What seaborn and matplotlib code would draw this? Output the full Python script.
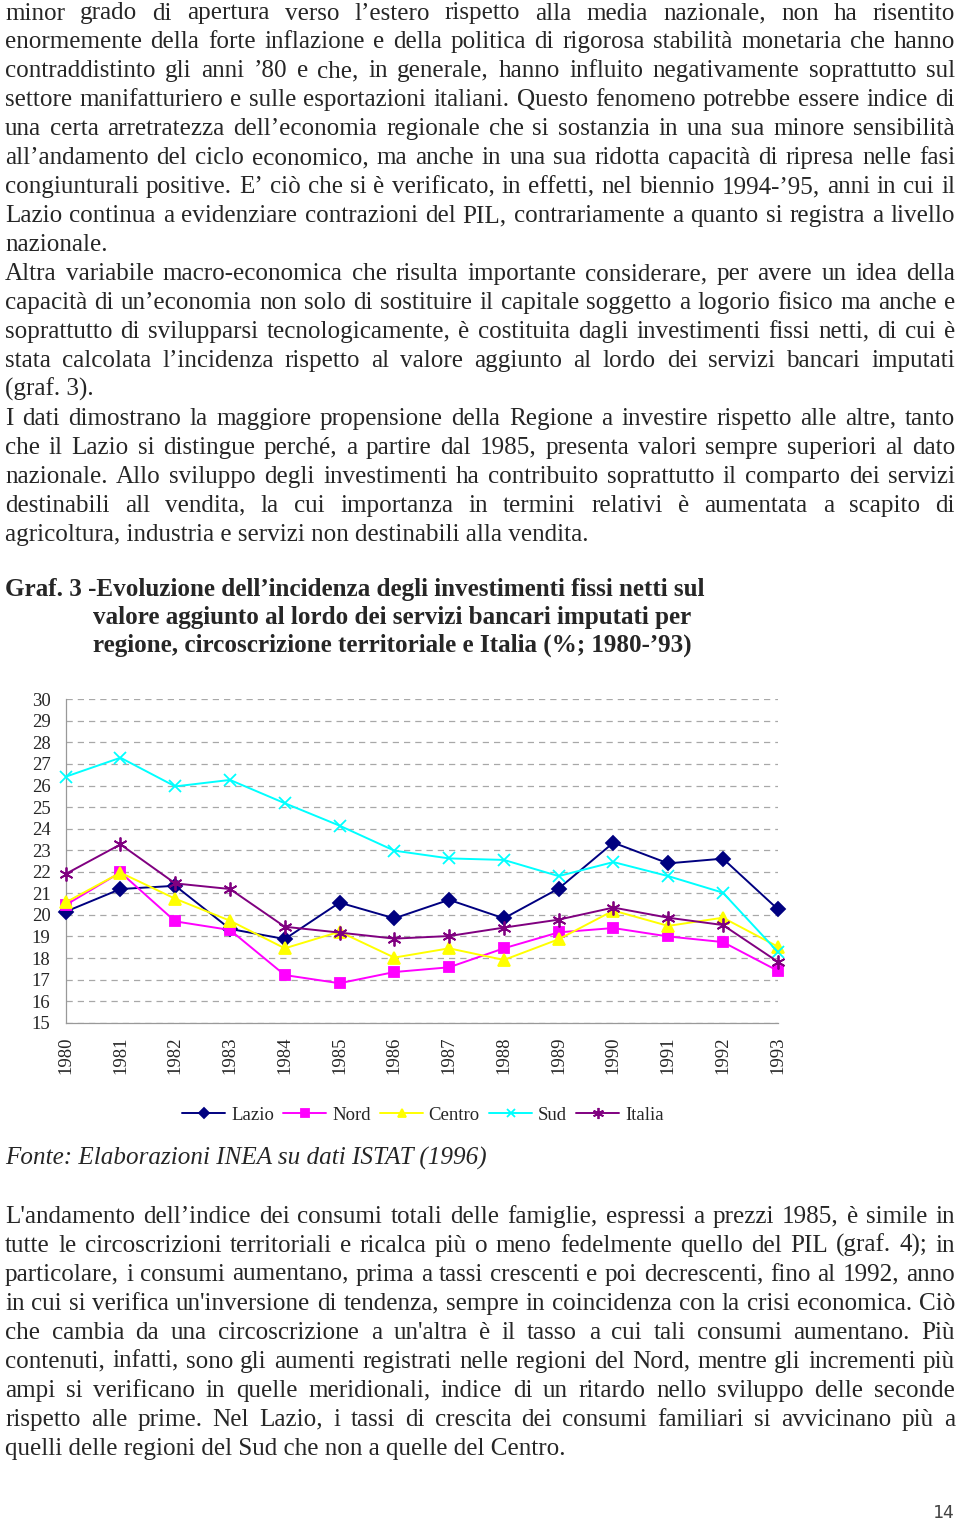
import matplotlib
matplotlib.use('Agg')
import matplotlib.pyplot as plt
import seaborn as sns

# chart data
years = list(range(1980, 1994))
lazio = [20.15, 21.2, 21.35, 19.35, 18.88, 20.57, 19.84, 20.7, 19.84, 21.22, 23.35, 22.39, 22.61, 20.27]
nord = [20.46, 21.97, 19.7, 19.3, 17.21, 16.83, 17.35, 17.57, 18.45, 19.19, 19.39, 19.0, 18.74, 17.41]
centro = [20.58, 21.96, 20.75, 19.73, 18.45, 19.22, 18.02, 18.45, 17.91, 18.87, 20.2, 19.49, 19.87, 18.53]
sud = [26.41, 27.29, 25.96, 26.26, 25.18, 24.14, 22.98, 22.62, 22.55, 21.8, 22.45, 21.8, 21.03, 18.29]
italia = [21.9, 23.27, 21.46, 21.2, 19.45, 19.18, 18.9, 19.02, 19.41, 19.78, 20.34, 19.87, 19.53, 17.83]
y_ticks = list(range(15, 31))

# page text: (line, justified?)
top_lines = [
    ("minor grado di apertura verso l’estero rispetto alla media nazionale, non ha risentito", True),
    ("enormemente della forte inflazione e della politica di rigorosa stabilità monetaria che hanno", True),
    ("contraddistinto gli anni ’80 e che, in generale, hanno influito negativamente soprattutto sul", True),
    ("settore manifatturiero e sulle esportazioni italiani. Questo fenomeno potrebbe essere indice di", True),
    ("una certa arretratezza dell’economia regionale che si sostanzia in una sua minore sensibilità", True),
    ("all’andamento del ciclo economico, ma anche in una sua ridotta capacità di ripresa nelle fasi", True),
    ("congiunturali positive. E’ ciò che si è verificato, in effetti, nel biennio 1994-’95, anni in cui il", True),
    ("Lazio continua a evidenziare contrazioni del PIL, contrariamente a quanto si registra a livello", True),
    ("nazionale.", False),
    ("Altra variabile macro-economica che risulta importante considerare, per avere un idea della", True),
    ("capacità di un’economia non solo di sostituire il capitale soggetto a logorio fisico ma anche e", True),
    ("soprattutto di svilupparsi tecnologicamente, è costituita dagli investimenti fissi netti, di cui è", True),
    ("stata calcolata l’incidenza rispetto al valore aggiunto al lordo dei servizi bancari imputati", True),
    ("(graf. 3).", False),
    ("I dati dimostrano la maggiore propensione della Regione a investire rispetto alle altre, tanto", True),
    ("che il Lazio si distingue perché, a partire dal 1985, presenta valori sempre superiori al dato", True),
    ("nazionale. Allo sviluppo degli investimenti ha contribuito soprattutto il comparto dei servizi", True),
    ("destinabili all vendita, la cui importanza in termini relativi è aumentata a scapito di", True),
    ("agricoltura, industria e servizi non destinabili alla vendita.", False),
]
bottom_lines = [
    ("L'andamento dell’indice dei consumi totali delle famiglie, espressi a prezzi 1985, è simile in", True),
    ("tutte le circoscrizioni territoriali e ricalca più o meno fedelmente quello del PIL (graf. 4); in", True),
    ("particolare, i consumi aumentano, prima a tassi crescenti e poi decrescenti, fino al 1992, anno", True),
    ("in cui si verifica un'inversione di tendenza, sempre in coincidenza con la crisi economica. Ciò", True),
    ("che cambia da una circoscrizione a un'altra è il tasso a cui tali consumi aumentano. Più", True),
    ("contenuti, infatti, sono gli aumenti registrati nelle regioni del Nord, mentre gli incrementi più", True),
    ("ampi si verificano in quelle meridionali, indice di un ritardo nello sviluppo delle seconde", True),
    ("rispetto alle prime. Nel Lazio, i tassi di crescita dei consumi familiari si avvicinano più a", True),
    ("quelli delle regioni del Sud che non a quelle del Centro.", False),
]
title_lines = [
    "Graf. 3 -Evoluzione dell’incidenza degli investimenti fissi netti sul",
    "valore aggiunto al lordo dei servizi bancari imputati per",
    "regione, circoscrizione territoriale e Italia (%; 1980-’93)",
]
source = "Fonte: Elaborazioni INEA su dati ISTAT (1996)"

sns.set_style('white')
plt.rcParams['font.family'] = ['Liberation Serif', 'DejaVu Serif']

W, H = 960, 1521
fig = plt.figure(figsize=(W / 100, H / 100), dpi=100)
renderer = fig.canvas.get_renderer()
BODY = 18.1


def put(x, y, s, **kw):
    return fig.text(x / W, 1 - y / H, s, va='baseline', **kw)


def justify(x0, x1, y, line, **kw):
    words = line.split(' ')
    arts = [put(0, y, w, **kw) for w in words]
    widths = [a.get_window_extent(renderer).width for a in arts]
    gap = (x1 - x0 - sum(widths)) / (len(words) - 1)
    x = x0
    for a, w in zip(arts, widths):
        a.set_x(x / W)
        x += w + gap


def paragraph(lines, y0, step):
    for i, (line, just) in enumerate(lines):
        y = y0 + i * step
        if just:
            justify(5, 955, y, line, fontsize=BODY)
        else:
            put(5, y, line, fontsize=BODY)


paragraph(top_lines, 19.5, 28.95)
paragraph(bottom_lines, 1222.7, 29.0)

# title, sized to the reference width
t = put(5, 596, title_lines[0], fontsize=20, fontweight='bold')
tsize = 20 * (707 - 5) / t.get_window_extent(renderer).width
t.set_fontsize(tsize)
put(93, 624.3, title_lines[1], fontsize=tsize, fontweight='bold')
put(93, 651.7, title_lines[2], fontsize=tsize, fontweight='bold')

put(5, 1165, source, fontsize=BODY, style='italic')
put(955, 1518, "14", fontsize=13, ha='right', color='#444444', family='DejaVu Sans Mono')

# chart
ax = fig.add_axes([65.7 / W, 1 - 1022.7 / H, (777.7 - 65.7) / W, (1022.7 - 699.3) / H])
series = [
    ("Lazio", lazio, '#000080', 'D', 7),
    ("Nord", nord, '#ff00ff', 's', 7.5),
    ("Centro", centro, '#ffff00', '^', 8),
    ("Sud", sud, '#00ffff', 'x', 8),
    ("Italia", italia, '#800080', (6, 2, 0), 10),
]
for name, vals, col, mk, ms in series:
    sns.lineplot(x=years, y=vals, ax=ax, color=col, marker=mk, markersize=ms,
                 markeredgecolor=col, markerfacecolor=col, markeredgewidth=1.3,
                 linewidth=1.4, label=name, clip_on=False, zorder=3)

ax.set_xlim(1980, 1993)
ax.set_ylim(15, 30)
ax.set_xticks(years)
ax.set_xticklabels([str(y) for y in years], rotation=90, fontsize=13.5)
ax.set_yticks(y_ticks)
ax.set_yticklabels([str(v) for v in y_ticks], fontsize=13.5)
ax.yaxis.grid(True, linestyle=(0, (5, 4)), color='#a8a8a8', linewidth=0.9)
ax.xaxis.grid(False)
for side in ['top', 'right']:
    ax.spines[side].set_visible(False)
for side in ['left', 'bottom']:
    ax.spines[side].set_color('#999999')
    ax.spines[side].set_linewidth(0.9)
ax.tick_params(axis='x', direction='inout', length=12, color='#999999', pad=4)
ax.tick_params(axis='y', direction='out', length=6, color='#999999', pad=5)
ax.set_xlabel('')
ax.set_ylabel('')

handles, labels = ax.get_legend_handles_labels()
ax.get_legend().remove()
fig.legend(handles, labels, loc='center', bbox_to_anchor=(423 / W, 1 - 1115 / H),
           ncol=5, frameon=False, prop={'family': 'Liberation Serif', 'size': 13.5},
           handlelength=2.3, handletextpad=0.3, columnspacing=0.5, markerscale=0.8)

fig.savefig('out.png', dpi=100, facecolor='white')
